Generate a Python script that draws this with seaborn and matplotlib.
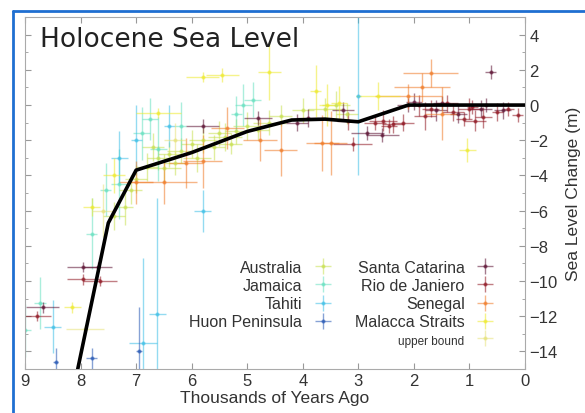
import numpy as np
import pandas as pd
import seaborn as sns
import matplotlib
matplotlib.use("Agg")
import matplotlib.pyplot as plt
from matplotlib.lines import Line2D

# mean curve (thousands of years ago, metres)
curve_age = [8.05, 7.5, 7.0, 6.0, 5.0, 4.2, 3.6, 3.0, 2.1, 1.0, 0.0]
curve_lvl = [-15.0, -6.7, -3.7, -2.7, -1.5, -0.85, -0.8, -0.95, 0.0, 0.0, 0.0]

# each site: age, level, age error, level error
australia_age = [7.4, 7.2, 7.1, 7.0, 6.8, 6.7, 6.6, 6.5, 6.4, 6.3, 6.2, 6.0, 5.9, 5.8, 5.6, 5.5, 5.4, 5.3, 5.2, 5.0, 4.8, 4.6, 4.4, 4.0, 3.6, 3.4, 3.2]
australia_lvl = [-6.3, -5.8, -4.8, -4.2, -3.5, -2.4, -3.0, -3.6, -2.8, -3.3, -2.6, -2.2, -3.0, -2.0, -2.4, -1.6, -1.8, -2.2, -1.5, -1.2, -1.4, -1.0, -0.6, -0.3, -0.2, 0.0, -0.5]
australia_xe = [0.2, 0.15, 0.2, 0.2, 0.2, 0.2, 0.2, 0.3, 0.2, 0.2, 0.25, 0.2, 0.25, 0.25, 0.2, 0.2, 0.3, 0.2, 0.2, 0.25, 0.2, 0.3, 0.2, 0.2, 0.3, 0.25, 0.2]
australia_ye = [0.8, 1.0, 0.8, 0.8, 0.8, 0.8, 0.7, 0.8, 0.7, 0.7, 0.7, 0.8, 0.8, 0.7, 0.7, 0.7, 0.8, 0.6, 0.7, 0.8, 0.6, 0.7, 0.6, 0.7, 0.6, 0.8, 0.6]

jamaica_age = [9.0, 8.73, 7.8, 7.55, 7.3, 6.9, 6.75, 6.6, 6.2, 5.2, 5.07, 4.9]
jamaica_lvl = [-12.8, -11.25, -7.3, -4.8, -4.5, -1.6, -0.8, -2.5, -1.2, -0.5, 0.0, 0.3]
jamaica_xe = [0.1, 0.1, 0.1, 0.1, 0.15, 0.15, 0.15, 0.15, 0.1, 0.1, 0.15, 0.15]
jamaica_ye = [1.5, 1.5, 2.0, 1.5, 2.0, 1.5, 1.2, 1.8, 1.4, 1.0, 1.2, 1.0]

tahiti_age = [8.5, 7.3, 7.0, 6.87, 6.62, 6.4, 5.8, 3.0]
tahiti_lvl = [-12.6, -3.0, -2.0, -13.5, -11.9, -1.2, -6.0, 0.5]
tahiti_xe = [0.15, 0.15, 0.1, 0.25, 0.15, 0.1, 0.15, 0.05]
tahiti_ye = [1.5, 1.5, 2.0, 4.8, 6.6, 1.2, 1.2, 4.5]

huon_age = [8.45, 7.8, 6.95]
huon_lvl = [-14.6, -14.4, -14.0]
huon_xe = [0.05, 0.1, 0.05]
huon_ye = [0.8, 0.6, 2.5]

santa_age = [7.95, 7.68, 8.68, 5.8, 4.8, 4.1, 3.9, 3.27, 2.84, 2.57, 2.1, 2.0, 1.6, 1.5, 1.2, 0.8, 0.7, 0.62, 0.4]
santa_lvl = [-9.2, -9.2, -11.5, -1.2, -0.75, -1.0, -0.75, -0.3, -1.6, -1.7, 0.0, 0.2, -0.3, 0.1, -0.5, -0.2, 0.0, 1.9, -0.3]
santa_xe = [0.3, 0.25, 0.3, 0.3, 0.25, 0.2, 0.2, 0.2, 0.3, 0.3, 0.2, 0.15, 0.2, 0.15, 0.15, 0.2, 0.1, 0.1, 0.15]
santa_ye = [0.3, 0.3, 0.3, 0.4, 0.4, 0.5, 0.5, 0.5, 0.4, 0.4, 0.4, 0.5, 0.6, 0.4, 0.5, 0.5, 0.4, 0.4, 0.5]

rio_age = [7.95, 7.65, 8.78, 3.18, 3.1, 2.7, 2.55, 2.45, 2.37, 2.2, 1.9, 1.8, 1.7, 1.4, 1.3, 1.1, 1.0, 0.95, 0.9, 0.75, 0.5, 0.3, 0.13]
rio_lvl = [-9.9, -10.0, -12.0, -0.9, -2.2, -1.0, -0.9, -1.2, -1.1, -1.0, 0.0, -0.6, -0.2, 0.1, -0.4, -0.8, -0.2, -0.1, -0.9, -0.7, -0.4, -0.2, -0.57]
rio_xe = [0.3, 0.3, 0.25, 0.2, 0.35, 0.2, 0.25, 0.15, 0.2, 0.2, 0.15, 0.2, 0.15, 0.2, 0.2, 0.15, 0.2, 0.1, 0.2, 0.15, 0.1, 0.1, 0.1]
rio_ye = [0.3, 0.3, 0.3, 0.5, 0.4, 0.4, 0.6, 0.4, 0.5, 0.5, 0.6, 0.8, 0.5, 0.5, 0.5, 0.4, 0.6, 0.4, 0.6, 0.6, 0.5, 0.4, 0.4]

senegal_age = [7.0, 6.5, 5.8, 6.1, 5.36, 4.77, 4.4, 3.65, 3.5, 2.1, 1.85, 1.7, 1.5]
senegal_lvl = [-4.4, -4.4, -3.2, -3.3, -1.3, -2.0, -2.55, -2.15, -2.15, 0.5, 1.0, 1.8, -0.5]
senegal_xe = [0.3, 0.6, 0.35, 0.3, 0.3, 0.3, 0.3, 0.3, 0.3, 0.6, 0.5, 0.5, 0.3]
senegal_ye = [1.2, 1.2, 1.5, 1.4, 1.2, 1.2, 1.5, 1.6, 1.8, 0.7, 0.8, 0.8, 1.5]

malacca_age = [8.15, 7.8, 7.4, 6.6, 5.8, 5.45, 4.6, 3.77, 3.56, 3.35, 2.65, 1.04]
malacca_lvl = [-11.5, -5.8, -4.0, -0.45, 1.6, 1.7, 1.9, 0.8, 0.0, 0.1, 0.5, -2.55]
malacca_xe = [0.15, 0.15, 0.2, 0.4, 0.3, 0.3, 0.2, 0.1, 0.15, 0.15, 0.4, 0.15]
malacca_ye = [0.3, 0.5, 1.0, 0.3, 0.3, 0.4, 1.6, 1.5, 1.2, 1.0, 0.8, 0.7]

upper_age = [7.92, 7.6, 6.3]
upper_lvl = [-12.7, -6.0, -2.0]
upper_xe = [0.35, 0.2, 0.2]
upper_ye = [0.2, 1.5, 1.0]

sites = [
    ("Australia", "#c8e050", australia_age, australia_lvl, australia_xe, australia_ye),
    ("Jamaica", "#66e0c0", jamaica_age, jamaica_lvl, jamaica_xe, jamaica_ye),
    ("Tahiti", "#3cbfe6", tahiti_age, tahiti_lvl, tahiti_xe, tahiti_ye),
    ("Huon Peninsula", "#2456b4", huon_age, huon_lvl, huon_xe, huon_ye),
    ("Santa Catarina", "#5a0f30", santa_age, santa_lvl, santa_xe, santa_ye),
    ("Rio de Janiero", "#8e1420", rio_age, rio_lvl, rio_xe, rio_ye),
    ("Senegal", "#f07a26", senegal_age, senegal_lvl, senegal_xe, senegal_ye),
    ("Malacca Straits", "#eeea2c", malacca_age, malacca_lvl, malacca_xe, malacca_ye),
    ("upper bound", "#e6e27a", upper_age, upper_lvl, upper_xe, upper_ye),
]

sns.set_style("white")
plt.rcParams['font.family'] = ['Liberation Sans', 'DejaVu Sans']

fig = plt.figure(figsize=(5.85, 4.14), dpi=100)
ax = fig.add_axes([0.0427, 0.1063, 0.8547, 0.850])

handles = {}
for name, col, a, l, xe, ye in sites:
    h = ax.errorbar(a, l, xerr=xe, yerr=ye, fmt='.', color=col, ms=4,
                    elinewidth=1, alpha=0.55, label=name)
    handles[name] = h

curve = pd.DataFrame({"age": curve_age, "level": curve_lvl})
sns.lineplot(data=curve, x="age", y="level", color="black", lw=2.6, ax=ax, zorder=5)

ax.set_xlim(9, 0)
ax.set_ylim(-15, 5)
ax.set_xticks(range(0, 10))
ax.set_yticks(range(-14, 5, 2))
ax.set_yticks(range(-15, 6), minor=True)
ax.yaxis.tick_right()
ax.yaxis.set_label_position("right")
ax.tick_params(which='both', direction='in', top=True, bottom=True, left=True, right=True,
               labelsize=12, colors='#999999', labelcolor='#333333', pad=3)
ax.tick_params(which='major', length=4)
ax.tick_params(which='minor', length=2)
for s in ax.spines.values():
    s.set_color('#aaaaaa')
    s.set_visible(True)

ax.set_xlabel("Thousands of Years Ago", fontsize=12.5, color='#333333', labelpad=1)
ax.set_ylabel("Sea Level Change (m)", fontsize=12.5, color='#333333', rotation=90, labelpad=6)

ax.text(0.03, 0.975, "Holocene Sea Level", transform=ax.transAxes, va='top', ha='left',
        fontsize=19, color='#222222', family=['DejaVu Sans'])

blank = Line2D([], [], alpha=0)
order = ["Australia", "Jamaica", "Tahiti", "Huon Peninsula"]
order2 = ["Santa Catarina", "Rio de Janiero", "Senegal", "Malacca Straits", "upper bound"]
hl = [handles[n] for n in order] + [blank] + [handles[n] for n in order2]
ll = order + [""] + order2
leg = ax.legend(hl, ll, ncol=2, loc='lower right', bbox_to_anchor=(0.975, 0.02),
                frameon=False, markerfirst=False, fontsize=11.5, handlelength=1.6,
                handletextpad=0.5, columnspacing=1.2, labelspacing=0.2,
                alignment='right')
for t in leg.get_texts():
    t.set_color('#333333')
    t.set_ha('right')
leg.get_texts()[-1].set_fontsize(8.5)

# blue frame on the left and top edges of the screenshot
fig.add_artist(Line2D([0.0214, 0.0214], [0, 0.97], transform=fig.transFigure, color='#1f6fd1', lw=2))
fig.add_artist(Line2D([0.0214, 1], [0.97, 0.97], transform=fig.transFigure, color='#1f6fd1', lw=2))

fig.savefig("out.png", dpi=100)
